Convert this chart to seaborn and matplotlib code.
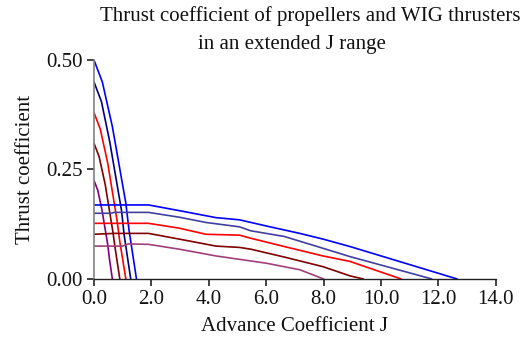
import matplotlib
matplotlib.use("Agg")
import matplotlib.pyplot as plt
import seaborn as sns
import pandas as pd

# Open-water propeller curves (steep, low J)
prop_names = ["P1", "P2", "P3", "P4", "P5"]
prop_j = [
    [0.0, 0.29, 0.64, 1.11, 1.22, 1.48],
    [0.0, 0.26, 0.55, 0.96, 1.05, 1.28],
    [0.0, 0.22, 0.48, 0.80, 0.90, 1.11],
    [0.0, 0.18, 0.39, 0.66, 0.74, 0.90],
    [0.0, 0.13, 0.28, 0.48, 0.54, 0.64],
]
prop_kt = [
    [0.50, 0.45, 0.348, 0.173, 0.112, 0.0],
    [0.45, 0.405, 0.313, 0.156, 0.101, 0.0],
    [0.38, 0.342, 0.264, 0.135, 0.085, 0.0],
    [0.31, 0.279, 0.216, 0.107, 0.069, 0.0],
    [0.225, 0.203, 0.157, 0.078, 0.045, 0.0],
]
prop_colors = ["#0000ff", "#000080", "#ff0000", "#800000", "#800080"]

# WIG thruster curves (extended J range)
wig_names = ["W1", "W2", "W3", "W4", "W5"]
wig_j = [
    [0.0, 1.9, 2.97, 4.25, 5.07, 6.0, 7.17, 7.98, 8.92, 12.65],
    [0.0, 0.6, 0.7, 1.9, 2.97, 3.9, 5.07, 5.46, 6.63, 7.98, 8.92, 11.77],
    [0.0, 1.9, 2.97, 3.9, 5.07, 5.46, 6.63, 7.98, 8.92, 10.70],
    [0.0, 0.7, 1.9, 2.97, 4.25, 5.07, 5.46, 6.63, 7.98, 8.92, 9.38],
    [0.0, 1.0, 1.2, 1.9, 2.97, 4.25, 6.0, 7.17, 8.0],
]
wig_kt = [
    [0.169, 0.169, 0.156, 0.140, 0.135, 0.121, 0.104, 0.091, 0.074, 0.0],
    [0.150, 0.150, 0.152, 0.152, 0.141, 0.129, 0.119, 0.110, 0.097, 0.070, 0.051, 0.0],
    [0.127, 0.127, 0.116, 0.102, 0.100, 0.093, 0.074, 0.0525, 0.040, 0.0],
    [0.102, 0.104, 0.104, 0.091, 0.075, 0.072, 0.068, 0.050, 0.028, 0.007, 0.0],
    [0.075, 0.075, 0.080, 0.079, 0.068, 0.0525, 0.036, 0.021, 0.0],
]
wig_colors = ["#0000ff", "#4040a0", "#ff0000", "#800000", "#a0407a"]

x_ticks = [0, 2, 4, 6, 8, 10, 12, 14]
x_tick_labels = ["0.0", "2.0", "4.0", "6.0", "8.0", "10.0", "12.0", "14.0"]
y_ticks = [0.0, 0.25, 0.5]
y_tick_labels = ["0.00", "0.25", "0.50"]

rows = []
for names, js, kts in ((prop_names, prop_j, prop_kt), (wig_names, wig_j, wig_kt)):
    for name, j, kt in zip(names, js, kts):
        for i, (a, b) in enumerate(zip(j, kt)):
            rows.append({"curve": name, "order": i, "J": a, "Kt": b})
df = pd.DataFrame(rows)
palette = dict(zip(prop_names + wig_names, prop_colors + wig_colors))

sns.set_theme(style="ticks")
plt.rcParams["font.family"] = ["Liberation Serif", "DejaVu Serif"]

fig = plt.figure(figsize=(5.28, 3.41), dpi=100)
ax = fig.add_axes([0.178, 0.182, 0.761, 0.642])

sns.lineplot(data=df, x="J", y="Kt", hue="curve", units="curve", estimator=None,
             sort=False, palette=palette, linewidth=1.2, legend=False, ax=ax)

ax.set_xlim(0, 14)
ax.set_ylim(0, 0.5)
ax.set_xticks(x_ticks)
ax.set_xticklabels(x_tick_labels)
ax.set_yticks(y_ticks)
ax.set_yticklabels(y_tick_labels)
sns.despine(ax=ax)
ax.tick_params(axis="both", which="major", bottom=True, left=True,
               direction="out", length=5, width=1.2, color="#222222",
               labelsize=15, labelcolor="#111111", pad=3)
ax.spines["left"].set_color("#808080")
ax.spines["bottom"].set_color("#222222")
ax.spines["left"].set_linewidth(1.2)
ax.spines["bottom"].set_linewidth(1.0)

ax.set_xlabel("Advance Coefficient J", fontsize=15, color="#111111", labelpad=6)
ax.set_ylabel("Thrust coefficient", fontsize=15, color="#111111", labelpad=8)

fig.text(310 / 528, 1 - 16 / 341, "Thrust coefficient of propellers and WIG thrusters",
         ha="center", va="center", fontsize=15, color="#111111")
fig.text(292 / 528, 1 - 44 / 341, "in an extended J range",
         ha="center", va="center", fontsize=15, color="#111111")

fig.savefig("out.png", dpi=100, facecolor="white")
